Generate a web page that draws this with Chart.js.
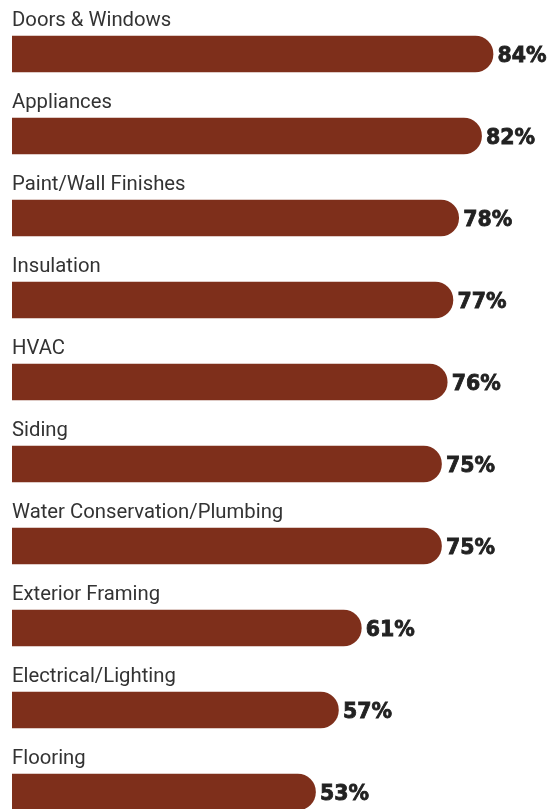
<!DOCTYPE html>
<html>
<head>
<meta charset="utf-8">
<script src="https://cdn.jsdelivr.net/npm/chart.js@4/dist/chart.umd.min.js"></script>
<style>
  html, body { margin: 0; padding: 0; background: #fff; overflow: hidden; }
  canvas { display: block; }
</style>
</head>
<body>
<canvas id="myChart" width="552" height="860"></canvas>
<script>
const categories = [
  "Doors & Windows",
  "Appliances",
  "Paint/Wall Finishes",
  "Insulation",
  "HVAC",
  "Siding",
  "Water Conservation/Plumbing",
  "Exterior Framing",
  "Electrical/Lighting",
  "Flooring"
];
const shares = [84, 82, 78, 77, 76, 75, 75, 61, 57, 53];
const valueLabels = ["84%", "82%", "78%", "77%", "76%", "75%", "75%", "61%", "57%", "53%"];

const barColor = '#7e2f1b';

// category name above each bar, percentage after its rounded end
const barLabels = {
  id: 'barLabels',
  afterDatasetsDraw(chart) {
    const ctx = chart.ctx;
    const meta = chart.getDatasetMeta(0);
    ctx.save();
    meta.data.forEach((bar, i) => {
      const top = bar.y - bar.height / 2;
      ctx.fillStyle = '#333';
      ctx.font = '20.3px Roboto, "Liberation Sans", sans-serif';
      ctx.textAlign = 'left';
      ctx.textBaseline = 'alphabetic';
      ctx.fillText(categories[i], chart.chartArea.left, top - 10.5);

      // heavy percentage figures: bold face plus a thin outline
      ctx.fillStyle = '#222';
      ctx.strokeStyle = '#222';
      ctx.lineWidth = 0.8;
      ctx.font = 'bold 20.5px "DejaVu Sans", sans-serif';
      ctx.fillText(valueLabels[i], bar.x + 4.5, bar.y + 8);
      ctx.strokeText(valueLabels[i], bar.x + 4.5, bar.y + 8);
    });
    ctx.restore();
  }
};

const ctx = document.getElementById('myChart').getContext('2d');
new Chart(ctx, {
  type: 'bar',
  data: {
    labels: categories,
    datasets: [{
      data: shares,
      backgroundColor: barColor,
      borderWidth: 0,
      borderRadius: 18,
      borderSkipped: 'start',
      barThickness: 36
    }]
  },
  options: {
    indexAxis: 'y',
    responsive: false,
    animation: false,
    layout: { padding: { left: 12, right: 0, top: 13, bottom: 27 } },
    plugins: {
      legend: { display: false },
      tooltip: { enabled: false }
    },
    scales: {
      x: { display: false, min: 0, max: 94.3 },
      y: { display: false, grid: { display: false } }
    }
  },
  plugins: [barLabels]
});
</script>
</body>
</html>
